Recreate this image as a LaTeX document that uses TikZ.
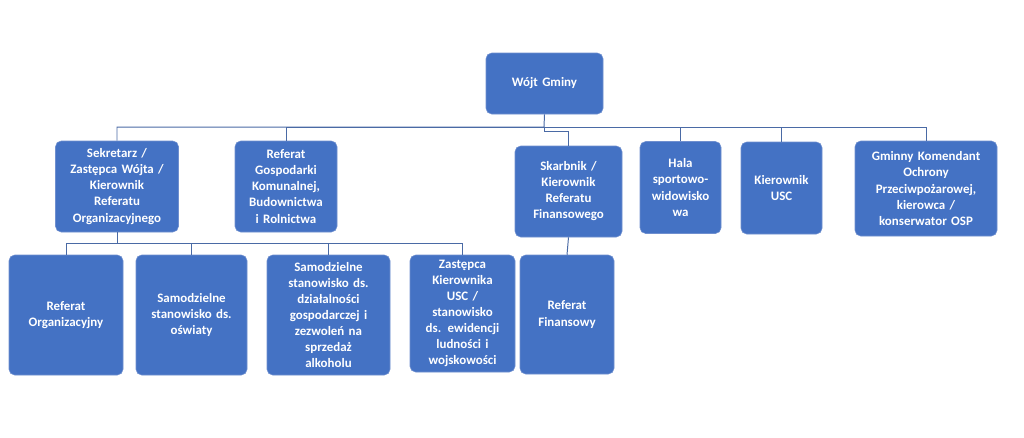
\documentclass[tikz,border=0pt]{standalone}
\usepackage{fontspec}
\setmainfont{Carlito}
\definecolor{boxblue}{HTML}{4472C4}
\definecolor{boxedge}{HTML}{6F8FCF}
\definecolor{lineblue}{HTML}{4A6AA5}
\tikzset{
    unit/.style={draw=boxedge, fill=boxblue, rounded corners=4pt, text=white,
      font=\bfseries\fontsize{9.2}{11.4}\selectfont, align=center, inner sep=1pt},
    link/.style={draw=lineblue, line width=0.7pt},
  }
\newcommand\unitbox[6]{\node[unit, minimum width=#3*0.025cm, minimum height=#4*0.025cm, text width=#5*0.025cm] (#1) at (#2) {#6};}
\begin{document}
\begin{tikzpicture}[x=0.025cm,y=-0.025cm]
				  \useasboundingbox (0,0) rectangle (1024,437);
				  %GORA
				  \unitbox{wojt}{544.5,83.5}{117}{61}{110}{Wójt Gminy}
				  %RZAD 2
				  \unitbox{sekr}{117,186.5}{123}{91}{115}{Sekretarz /\\ Zastępca Wójta /\\ Kierownik\\ Referatu\\ Organizacyjnego}
				  \unitbox{gosp}{286,186.5}{102}{91}{94}{Referat\\ Gospodarki\\ Komunalnej,\\ Budownictwa\\ i Rolnictwa}
				  \unitbox{skarb}{568.5,191.5}{107}{91}{100}{Skarbnik /\\ Kierownik\\ Referatu\\ Finansowego}
				  \unitbox{hala}{680.5,187.5}{81}{92}{76}{Hala\\ sportowo-\\ widowisko\\ wa}
				  \unitbox{usc}{781.5,188}{81}{92}{76}{Kierownik\\ USC}
				  \unitbox{osp}{926,188.5}{142}{95}{136}{Gminny Komendant\\ Ochrony\\ Przeciwpożarowej,\\ kierowca /\\ konserwator OSP}
				  %RZAD 3
				  \unitbox{org}{66,315}{114}{120}{108}{Referat\\ Organizacyjny}
				  \unitbox{osw}{191.5,315}{111}{120}{105}{Samodzielne\\ stanowisko ds.\\ oświaty}
				  \unitbox{dzial}{328.5,315}{123}{120}{117}{Samodzielne\\ stanowisko ds.\\ działalności\\ gospodarczej i\\ zezwoleń na\\ sprzedaż\\ alkoholu}
				  \unitbox{zast}{462.5,313.5}{105}{117}{100}{Zastępca\\ Kierownika\\ USC /\\ stanowisko\\ ds. ewidencji\\ ludności i\\ wojskowości}
				  \unitbox{fin}{567,314.5}{94}{119}{88}{Referat\\ Finansowy}
				  %POLACZENIA
				  \coordinate (bus) at (544,127);
				  \draw[link] (wojt.south) -- (bus) -| (sekr.north);
				  \draw[link] (bus) -| (gosp.north);
				  \draw[link] (bus) -| (osp.north);
				  \foreach \b in {hala,usc} \draw[link] (bus) -| (\b.north);
				  \draw[link] (bus) -- (544,131) -| (skarb.north);
				  \draw[link] (skarb.south) -- (fin.north);
				  \coordinate (bus2) at (117,243);
				  \draw[link] (sekr.south) -- (bus2);
				  \foreach \b in {org,osw,dzial,zast} \draw[link] (bus2) -| (\b.north);
\end{tikzpicture}
\end{document}
